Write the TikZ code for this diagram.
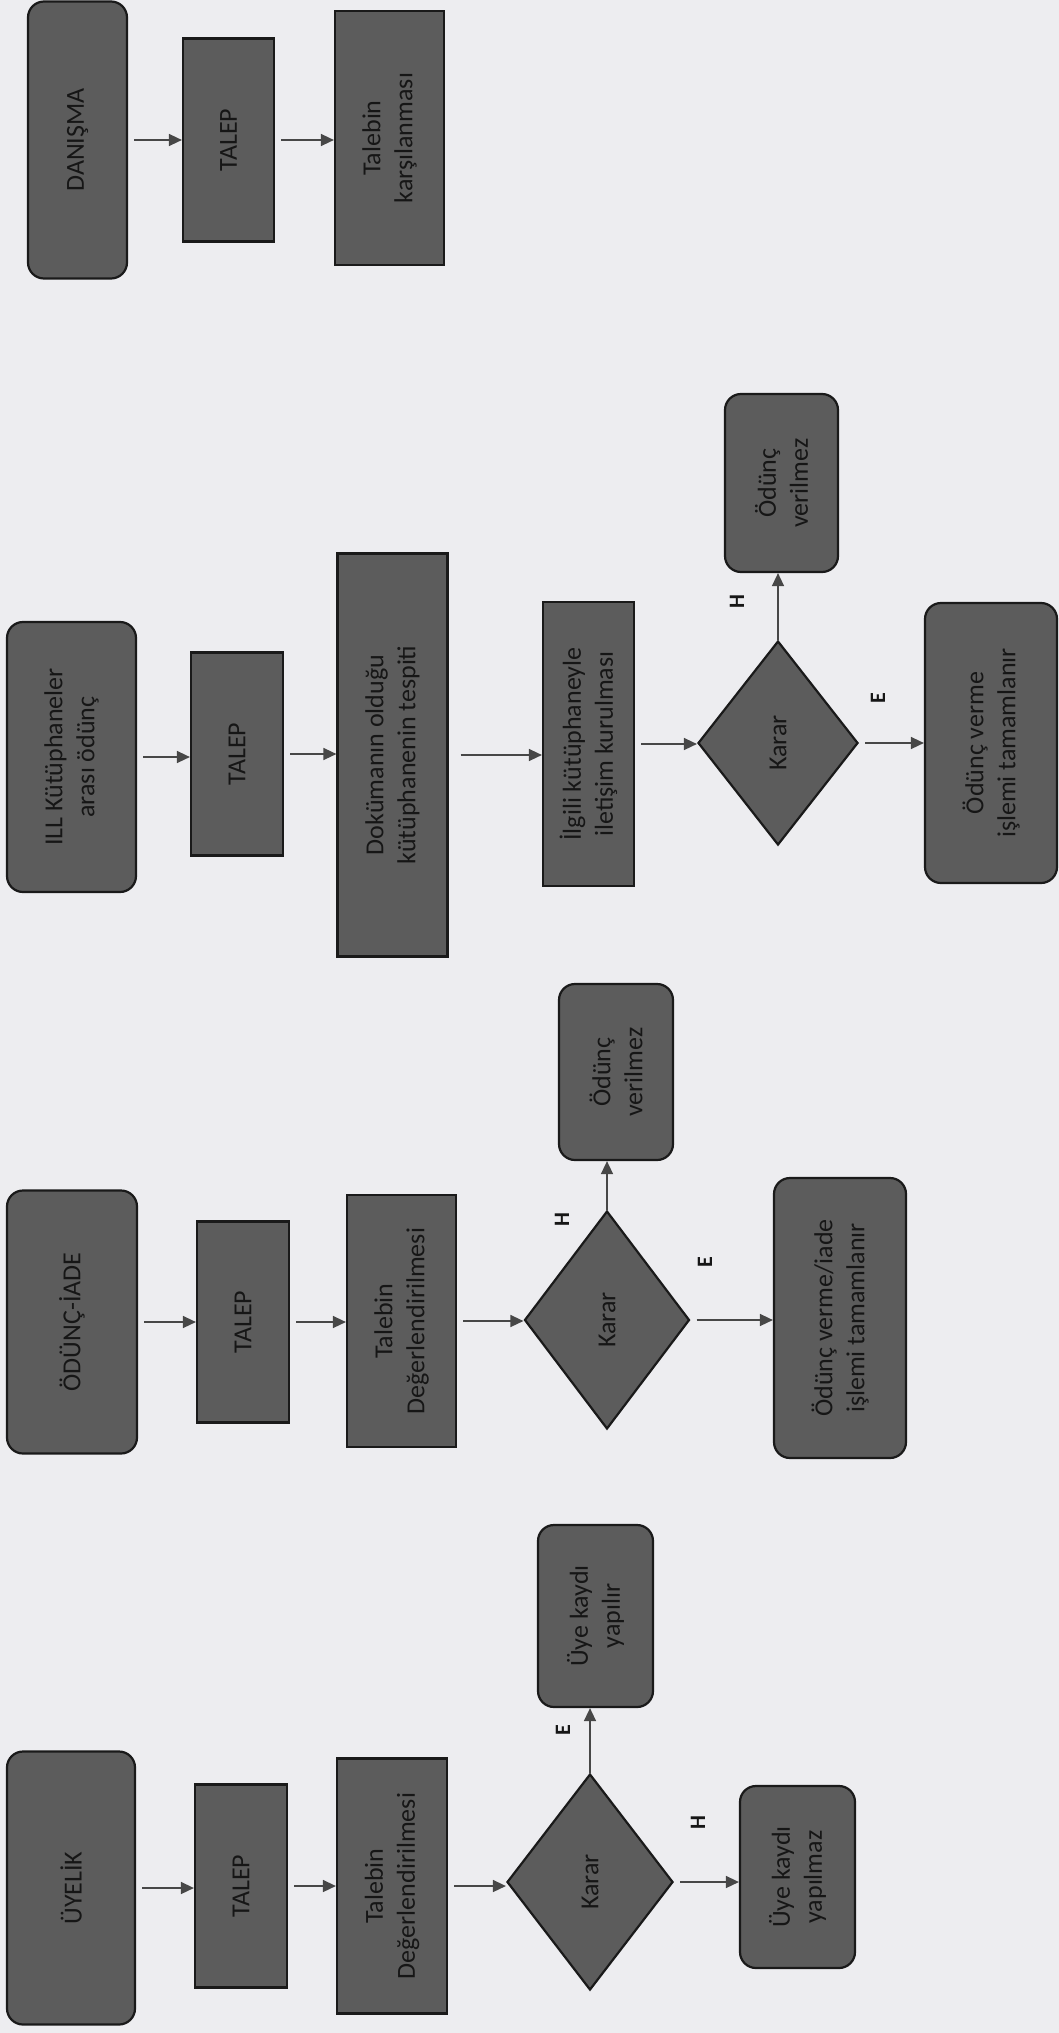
\documentclass[tikz,border=0pt]{standalone}
\usepackage{fontspec}
\setmainfont{Carlito}
\usepackage{tikz}
\usetikzlibrary{arrows.meta,shapes.geometric}
\definecolor{page}{HTML}{EDEDF0}
\definecolor{boxfill}{HTML}{5C5C5C}
\definecolor{boxline}{HTML}{1A1A1A}
\definecolor{ink}{HTML}{161616}
\definecolor{wire}{HTML}{474747}
\newcommand{\boxfont}{\fontsize{26}{32}\selectfont}
\newcommand{\yhfont}{\fontsize{22}{26}\selectfont\bfseries}
\tikzset{
  base/.style={rotate=90, draw=boxline, fill=boxfill, line width=2.2pt, text=ink, font=\boxfont, align=center, inner sep=0pt},
  proc/.style={base},
  term/.style={base, rounded corners=16pt},
  karar/.style={base, diamond},
  dims/.style 2 args={minimum height=#1, minimum width=#2},
  arr/.style={-{Triangle[length=13pt,width=12pt]}, line width=1.5pt, draw=wire, shorten <=6pt},
  yh/.style={rotate=90, font=\yhfont, text=ink},
}

\begin{document}
\begin{tikzpicture}[x=1pt,y=-1pt]
  \fill[page] (0,0) rectangle (1059,2033);
  \useasboundingbox (0,0) rectangle (1059,2033);

  % DANISMA
  \node[term, dims={99}{277}] (dan) at (77.5,140) {DANIŞMA};
  \node[proc, dims={91}{203}] (tal4) at (228.5,140) {TALEP};
  \node[proc, dims={109}{254}] (karsi) at (389.5,138) {Talebin\\karşılanması};
  \draw[arr] (dan.south) -- (dan.south -| tal4.north);
  \draw[arr] (tal4.south) -- (tal4.south -| karsi.north);

  % ILL
  \node[term, dims={129}{270}] (ill) at (71.5,757) {ILL Kütüphaneler\\arası ödünç};
  \node[proc, dims={92}{203}] (tal3) at (237,754) {TALEP};
  \node[proc, dims={110}{403}] (dok) at (392.5,755) {Dokümanın olduğu\\kütüphanenin tespiti};
  \node[proc, dims={91}{284}] (ilg) at (588.5,744) {İlgili kütüphaneyle\\iletişim kurulması};
  \node[karar, dims={160}{204}] (k3) at (778,743) {Karar};
  \node[term, dims={113}{178}] (no3) at (781.5,483) {Ödünç\\verilmez};
  \node[term, dims={132}{280}] (yes3) at (991,743) {Ödünç verme\\işlemi tamamlanır};
  \draw[arr] (ill.south) -- (ill.south -| tal3.north);
  \draw[arr] (tal3.south) -- (tal3.south -| dok.north);
  \draw[arr, shorten <=12pt] (dok.south) -- (dok.south -| ilg.north);
  \draw[arr] (ilg.south) -- (ilg.south -| k3.north);
  \draw[arr, shorten <=0pt] (k3.east) -- (k3.east |- no3.west);
  \draw[arr] (k3.south) -- (k3.south -| yes3.north);
  \node[yh] (h3) at (737,602) {H};
  \node[yh] (e3) at (878,698) {E};

  % ODUNC-IADE
  \node[term, dims={130}{263}] (odn) at (72,1322) {ÖDÜNÇ-İADE};
  \node[proc, dims={92}{201}] (tal2) at (243,1322) {TALEP};
  \node[proc, dims={109}{252}] (deg2) at (401.5,1321) {Talebin\\Değerlendirilmesi};
  \node[karar, dims={165}{218}] (k2) at (607,1320) {Karar};
  \node[term, dims={114}{176}] (no2) at (616,1072) {Ödünç\\verilmez};
  \node[term, dims={132}{280}] (yes2) at (840,1318) {Ödünç verme/iade\\işlemi tamamlanır};
  \draw[arr] (odn.south) -- (odn.south -| tal2.north);
  \draw[arr] (tal2.south) -- (tal2.south -| deg2.north);
  \draw[arr] (deg2.south) -- (deg2.south -| k2.north);
  \draw[arr, shorten <=0pt] (k2.east) -- (k2.east |- no2.west);
  \draw[arr] (k2.south) -- (k2.south -| yes2.north);
  \node[yh] (h2) at (562,1220) {H};
  \node[yh] (e2) at (705,1262) {E};

  % UYELIK
  \node[term, dims={128}{273}] (uye) at (71,1888) {ÜYELİK};
  \node[proc, dims={92}{203}] (tal1) at (241,1886) {TALEP};
  \node[proc, dims={110}{255}] (deg1) at (392,1886) {Talebin\\Değerlendirilmesi};
  \node[karar, dims={166}{216}] (k1) at (590,1882) {Karar};
  \node[term, dims={115}{182}] (yes1) at (595.5,1616) {Üye kaydı\\yapılır};
  \node[term, dims={115}{182}] (no1) at (797.5,1877) {Üye kaydı\\yapılmaz};
  \draw[arr] (uye.south) -- (uye.south -| tal1.north);
  \draw[arr] (tal1.south) -- (tal1.south -| deg1.north);
  \draw[arr] (deg1.south) -- (deg1.south -| k1.north);
  \draw[arr, shorten <=0pt] (k1.east) -- (k1.east |- yes1.west);
  \draw[arr] (k1.south) -- (k1.south -| no1.north);
  \node[yh] (e1) at (563,1730) {E};
  \node[yh] (h1) at (698,1823) {H};
\end{tikzpicture}
\end{document}
